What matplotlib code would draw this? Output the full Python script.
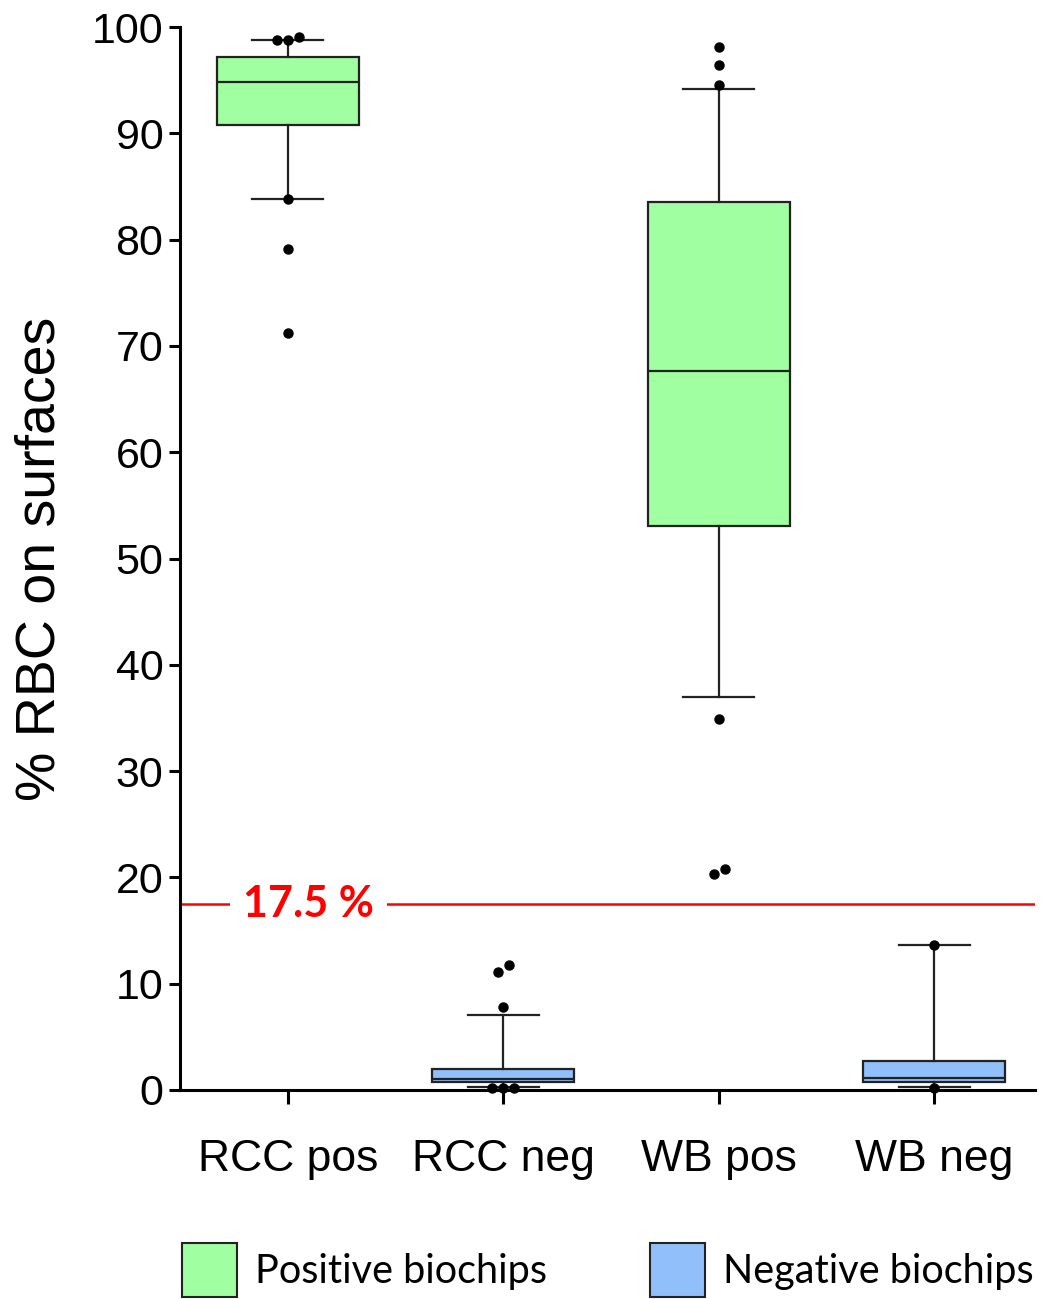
import matplotlib
matplotlib.use('Agg')
import matplotlib.pyplot as plt
from matplotlib.patches import Patch

# groups and box statistics
groups = ['RCC pos', 'RCC neg', 'WB pos', 'WB neg']
q1 = [90.8, 0.75, 53.1, 0.75]
med = [94.8, 1.0, 67.6, 1.15]
q3 = [97.2, 2.0, 83.5, 2.7]
whis_lo = [83.8, 0.3, 37.0, 0.3]
whis_hi = [98.8, 7.1, 94.2, 13.6]
is_pos = [True, False, True, False]

# individual points (value, small horizontal jitter in category units)
pts_rcc_pos = [98.8, 98.8, 99.1, 83.8, 79.1, 71.2]
jit_rcc_pos = [-0.05, 0.0, 0.05, 0.0, 0.0, 0.0]
pts_rcc_neg = [11.1, 11.8, 7.8, 0.2, 0.2, 0.2]
jit_rcc_neg = [-0.025, 0.025, 0.0, -0.05, 0.0, 0.05]
pts_wb_pos = [98.1, 96.4, 94.5, 34.9, 20.3, 20.8]
jit_wb_pos = [0.0, 0.0, 0.0, 0.0, -0.02, 0.03]
pts_wb_neg = [13.6, 0.2]
jit_wb_neg = [0.0, 0.0]

threshold = 17.5

green = '#A0FFA0'
blue = '#90BFF9'

fig = plt.figure(figsize=(10.43, 12.99), dpi=100)
ax = fig.add_axes([0.1726, 0.1609, 0.9923 - 0.1726, 0.9792 - 0.1609])

stats = []
for i in range(len(groups)):
    stats.append({'med': med[i], 'q1': q1[i], 'q3': q3[i],
                  'whislo': whis_lo[i], 'whishi': whis_hi[i],
                  'fliers': [], 'label': groups[i]})

pos = list(range(len(groups)))
bp = ax.bxp(stats, positions=pos, widths=0.66, capwidths=0.33,
            showfliers=False, patch_artist=True,
            boxprops=dict(linewidth=1.6, edgecolor='#222222'),
            medianprops=dict(color='#222222', linewidth=1.6),
            whiskerprops=dict(color='#222222', linewidth=1.6),
            capprops=dict(color='#222222', linewidth=1.6))
for b, p in zip(bp['boxes'], is_pos):
    b.set_facecolor(green if p else blue)

all_pts = [(pts_rcc_pos, jit_rcc_pos), (pts_rcc_neg, jit_rcc_neg),
           (pts_wb_pos, jit_wb_pos), (pts_wb_neg, jit_wb_neg)]
for i, (vals, jit) in enumerate(all_pts):
    xs = [i + j for j in jit]
    ax.plot(xs, vals, 'o', color='black', markersize=6.5, clip_on=False, zorder=5)

# threshold line with label
ax.axhline(threshold, color='#FF0000', linewidth=1.8, zorder=1)
ax.text(0.097, threshold, '17.5 %', color='#FF0000', fontsize=31, fontweight='bold',
        family='Lato', ha='center', va='center', zorder=2,
        bbox=dict(boxstyle='square,pad=0.3', facecolor='white', edgecolor='none'))

ax.set_xlim(-0.5, 3.468)
ax.set_ylim(0, 100)
ax.set_yticks(range(0, 101, 10))
ax.set_xticks(pos)
ax.set_xticklabels(groups)

for s in ['top', 'right']:
    ax.spines[s].set_visible(False)
for s in ['left', 'bottom']:
    ax.spines[s].set_linewidth(2.2)

ax.tick_params(axis='y', labelsize=31, length=8, width=2.2, pad=4)
ax.tick_params(axis='x', labelsize=32, length=10, width=2.2, pad=25)
for lab in ax.get_xticklabels() + ax.get_yticklabels():
    lab.set_family('Liberation Sans')

ax.set_ylabel('% RBC on surfaces', fontsize=40, family='Liberation Sans', labelpad=18)

handles = [Patch(facecolor=green, edgecolor='#222222', linewidth=1.5, label='Positive biochips'),
           Patch(facecolor=blue, edgecolor='#222222', linewidth=1.5, label='Negative biochips')]
fig.legend(handles=handles, loc='lower left', bbox_to_anchor=(0.1745, 0.0015),
           ncol=2, frameon=False, prop={'family': 'Lato', 'size': 28.5},
           handlelength=1.39, handleheight=1.72, handletextpad=0.45,
           columnspacing=2.6, borderpad=0, borderaxespad=0)

fig.savefig('out.png', dpi=100)
